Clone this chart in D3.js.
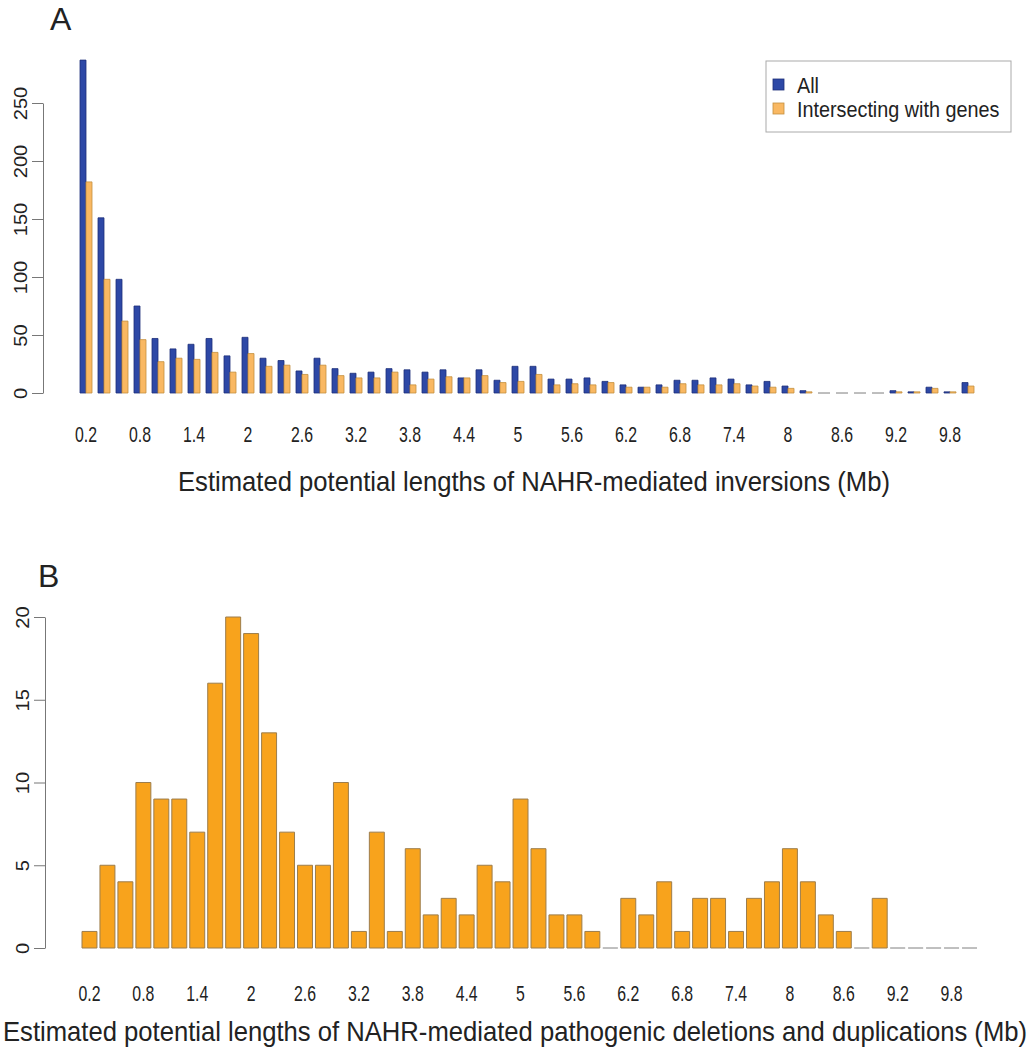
<!DOCTYPE html>
<html>
<head>
<meta charset="utf-8">
<script src="https://cdn.jsdelivr.net/npm/d3@7"></script>
<style>
  body { margin: 0; background: #fff; }
  svg { display: block; }
  text { font-family: "Liberation Sans", Arial, sans-serif; fill: #222; }
</style>
</head>
<body>
<div id="chart"></div>
<script>
/* NAHR length histograms, panels A and B */

const categories = ["0.2","0.4","0.6","0.8","1","1.2","1.4","1.6","1.8","2",
  "2.2","2.4","2.6","2.8","3","3.2","3.4","3.6","3.8","4",
  "4.2","4.4","4.6","4.8","5","5.2","5.4","5.6","5.8","6",
  "6.2","6.4","6.6","6.8","7","7.2","7.4","7.6","7.8","8",
  "8.2","8.4","8.6","8.8","9","9.2","9.4","9.6","9.8","10"];
const tickLabels = ["0.2","0.8","1.4","2","2.6","3.2","3.8","4.4","5",
  "5.6","6.2","6.8","7.4","8","8.6","9.2","9.8"];

const seriesNames = ["All", "Intersecting with genes"];
const allInversions = [287,151,98,75,47,38,42,47,32,48,
  30,28,19,30,21,17,18,21,20,18,
  20,13,20,11,23,23,12,12,13,10,
  7,5,7,11,11,13,12,7,10,6,
  2,0,0,0,0,2,1,5,1,9];
const geneInversions = [182,98,62,46,27,30,29,35,18,34,
  23,24,16,24,15,13,13,18,7,12,
  14,13,15,9,10,16,7,8,7,9,
  5,5,5,8,7,7,8,6,5,4,
  1,0,0,0,0,1,1,4,1,6];

const pathogenic = [1,5,4,10,9,9,7,16,20,19,
  13,7,5,5,10,1,7,1,6,2,
  3,2,5,4,9,6,2,2,1,0,
  3,2,4,1,3,3,1,3,4,6,
  4,2,1,0,3,0,0,0,0,0];

const yTicksA = [0, 50, 100, 150, 200, 250];
const yTicksB = [0, 5, 10, 15, 20];

const W = 1031, H = 1050;
const svg = d3.select("#chart").append("svg")
  .attr("width", W)
  .attr("height", H);

// outline path so zero-height bars still show as a dash
function barPath(x, w, yTop, yBase) {
  return `M${x},${yBase}H${x + w}V${yTop}H${x}Z`;
}

function styleYAxis(g, d) {
  g.select(".domain").attr("stroke", "#777");
  g.selectAll(".tick line").attr("stroke", "#777");
  g.selectAll(".tick text")
    .attr("transform", "rotate(-90) scale(1.12,1)")
    .attr("x", 0)
    .attr("y", -d)
    .attr("dy", 0)
    .attr("text-anchor", "middle")
    .attr("font-size", 18)
    .attr("fill", "#333");
}

function styleXAxis(g) {
  g.select(".domain").remove();
  g.selectAll(".tick line").remove();
  g.selectAll(".tick text")
    .attr("y", 0)
    .attr("dy", "0.35em")
    .attr("transform", "scale(0.88,1.2)")
    .attr("font-size", 18)
    .attr("fill", "#222");
}

// stretched title text, centred on (x, y)
function title(parent, x, y, len, str) {
  parent.append("g")
    .attr("transform", `translate(${x},${y}) scale(1,1.18)`)
    .append("text")
    .attr("dy", "0.35em")
    .attr("text-anchor", "middle")
    .attr("font-size", 23)
    .attr("textLength", len)
    .attr("lengthAdjust", "spacingAndGlyphs")
    .text(str);
}

// ---------- Panel A ----------
const xA = d3.scaleBand()
  .domain(categories)
  .range([80, 974])
  .paddingInner(1 / 3)
  .paddingOuter(0);
const xSub = d3.scaleBand()
  .domain(seriesNames)
  .range([0, xA.bandwidth()]);
const yA = d3.scaleLinear()
  .domain([0, 250])
  .range([393, 103]);
const colA = { "All": ["#2D48A6", "#1D2E78"], "Intersecting with genes": ["#F9B862", "#C4903F"] };

const rowsA = categories.map((c, i) => ({ c, vals: [allInversions[i], geneInversions[i]] }));
const panelA = svg.append("g");

panelA.selectAll("g.grp")
  .data(rowsA)
  .join("g")
  .attr("class", "grp")
  .attr("transform", d => `translate(${xA(d.c)},0)`)
  .selectAll("path")
  .data(d => d.vals.map((v, k) => ({ s: seriesNames[k], v })))
  .join("path")
  .attr("d", d => barPath(xSub(d.s), xSub.bandwidth(), yA(d.v), yA(0)))
  .attr("fill", d => colA[d.s][0])
  .attr("stroke", d => d.v === 0 ? "#999" : colA[d.s][1])
  .attr("stroke-width", 0.8);

panelA.append("g")
  .attr("transform", "translate(43,0)")
  .call(d3.axisLeft(yA).tickValues(yTicksA).tickSize(11).tickSizeOuter(0))
  .call(g => styleYAxis(g, 16));

panelA.append("g")
  .attr("transform", "translate(0,434)")
  .call(d3.axisBottom(xA).tickValues(tickLabels).tickSize(0))
  .call(styleXAxis);

title(panelA, 534, 481, 712, "Estimated potential lengths of NAHR-mediated inversions (Mb)");

panelA.append("text")
  .attr("x", 50)
  .attr("y", 30)
  .attr("font-size", 32)
  .attr("fill", "#111")
  .text("A");

// legend
const legend = panelA.append("g");
legend.append("rect")
  .attr("x", 766).attr("y", 61)
  .attr("width", 245).attr("height", 71)
  .attr("fill", "#fff")
  .attr("stroke", "#aaa");
seriesNames.forEach((s, i) => {
  legend.append("rect")
    .attr("x", 773).attr("y", 79 + i * 24)
    .attr("width", 11).attr("height", 11)
    .attr("fill", colA[s][0])
    .attr("stroke", colA[s][1])
    .attr("stroke-width", 0.8);
  legend.append("g")
    .attr("transform", `translate(797,${85 + i * 24}) scale(1.1,1.2)`)
    .append("text")
    .attr("dy", "0.35em")
    .attr("font-size", 18)
    .attr("fill", "#333")
    .text(s);
});

// ---------- Panel B ----------
const xB = d3.scaleBand()
  .domain(categories)
  .range([82, 977])
  .paddingInner(1 / 6)
  .paddingOuter(0);
const yB = d3.scaleLinear()
  .domain([0, 20])
  .range([948, 617]);

const panelB = svg.append("g");

panelB.selectAll("path.bar")
  .data(categories.map((c, i) => ({ c, v: pathogenic[i] })))
  .join("path")
  .attr("class", "bar")
  .attr("d", d => barPath(xB(d.c), xB.bandwidth(), yB(d.v), yB(0)))
  .attr("fill", "#F8A31C")
  .attr("stroke", d => d.v === 0 ? "#aaa" : "#9C7D4C")
  .attr("stroke-width", 1);

panelB.append("g")
  .attr("transform", "translate(45,0)")
  .call(d3.axisLeft(yB).tickValues(yTicksB).tickSize(11).tickSizeOuter(0))
  .call(g => styleYAxis(g, 16));

panelB.append("g")
  .attr("transform", "translate(0,993)")
  .call(d3.axisBottom(xB).tickValues(tickLabels).tickSize(0))
  .call(styleXAxis);

title(panelB, 515, 1031, 1024, "Estimated potential lengths of NAHR-mediated pathogenic deletions and duplications (Mb)");

panelB.append("text")
  .attr("x", 38)
  .attr("y", 587)
  .attr("font-size", 32)
  .attr("fill", "#111")
  .text("B");
</script>
</body>
</html>
